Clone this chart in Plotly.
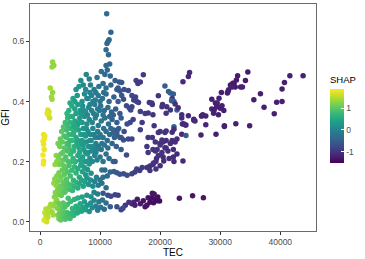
import plotly.graph_objects as go

# (TEC, GFI, SHAP) triples, grouped by region
yellow = [
    (800, 0.030, 1.6), (1000, 0.020, 1.65), (900, 0.010, 1.7), (1200, 0.025, 1.55), (1100, 0.000, 1.65),
    (700, 0.005, 1.7), (1300, 0.015, 1.55), (1000, 0.042, 1.5),
    (600, 0.290, 1.8), (800, 0.285, 1.8), (700, 0.275, 1.8), (500, 0.268, 1.85), (600, 0.258, 1.8),
    (700, 0.240, 1.8), (500, 0.222, 1.85), (600, 0.202, 1.8), (550, 0.192, 1.85),
    (1300, 0.372, 1.75), (1500, 0.365, 1.7), (1400, 0.355, 1.7), (1600, 0.345, 1.65), (1200, 0.360, 1.75),
    (1700, 0.445, 1.45), (2100, 0.430, 1.35), (1900, 0.415, 1.4), (2000, 0.408, 1.4),
    (2100, 0.532, 1.35), (2300, 0.520, 1.3), (2000, 0.515, 1.35),
]

low = [
    (1400, 0.030, 1.5), (1600, 0.048, 1.45), (1800, 0.058, 1.4), (2000, 0.033, 1.4), (2200, 0.022, 1.4),
    (2300, 0.052, 1.35), (2600, 0.064, 1.3), (2800, 0.071, 1.25),
    (3000, 0.022, 1.2), (3150, 0.010, 1.15), (3300, 0.031, 1.1), (3450, 0.006, 1.1), (3600, 0.018, 1.05),
    (3750, 0.036, 1.05), (3900, 0.012, 1.0), (4050, 0.027, 1.0), (4200, 0.008, 0.95), (4350, 0.019, 0.95),
    (4500, 0.031, 0.9), (4650, 0.014, 0.9), (4800, 0.024, 0.85), (5000, 0.011, 0.85), (3550, 0.046, 1.05),
    (4150, 0.049, 0.95), (4550, 0.057, 0.9), (3850, 0.062, 1.0), (3200, 0.060, 1.1), (2900, 0.045, 1.2),
    (5200, 0.028, 0.8), (5400, 0.044, 0.75), (5600, 0.021, 0.75), (5750, 0.037, 0.7), (6000, 0.051, 0.65),
    (6200, 0.029, 0.6), (6450, 0.043, 0.6), (6700, 0.060, 0.55), (6900, 0.035, 0.5), (7150, 0.048, 0.45),
    (7400, 0.066, 0.4), (7600, 0.040, 0.4), (7900, 0.055, 0.3), (8200, 0.034, 0.25), (8450, 0.062, 0.2),
    (8700, 0.046, 0.15), (9000, 0.071, 0.1), (9300, 0.052, 0.0), (9600, 0.038, -0.05), (9800, 0.066, -0.1),
    (10100, 0.048, -0.15), (10400, 0.072, -0.2), (10700, 0.041, -0.3), (11000, 0.062, -0.3),
    (5100, 0.067, 0.8), (5700, 0.074, 0.7), (6300, 0.079, 0.6), (4700, 0.078, 0.85), (7000, 0.082, 0.45),
    (7800, 0.088, 0.3), (8500, 0.083, 0.2),
    (10500, 0.095, -0.6), (11300, 0.088, -0.7), (11800, 0.085, -0.75), (12500, 0.090, -0.8), (13000, 0.088, -0.85),
    (12800, 0.050, -0.7), (13500, 0.040, -0.8), (14200, 0.055, -0.9), (15300, 0.060, -1.1), (15600, 0.065, -1.15),
    (15800, 0.055, -1.2), (16700, 0.060, -1.25), (17200, 0.070, -1.3), (17800, 0.055, -1.3), (18000, 0.080, -1.3),
    (18300, 0.065, -1.35), (18600, 0.080, -1.35), (18700, 0.095, -1.3), (19000, 0.092, -1.3), (19200, 0.075, -1.4),
    (18900, 0.063, -1.4), (19500, 0.070, -1.4), (19900, 0.069, -1.4), (19600, 0.082, -1.35), (16200, 0.075, -1.25),
    (14800, 0.065, -1.0), (17500, 0.050, -1.3),
    (23200, 0.078, -1.3), (25400, 0.086, -1.3), (27200, 0.080, -1.3),
    (11700, 0.050, -0.5), (13800, 0.045, -0.75),
]

mid_low = [
    (2300, 0.128, 1.35), (2450, 0.142, 1.3), (2650, 0.121, 1.3), (2800, 0.152, 1.25), (3000, 0.135, 1.2),
    (3150, 0.163, 1.2), (3350, 0.118, 1.15), (3500, 0.148, 1.15), (3700, 0.172, 1.1), (3850, 0.132, 1.1),
    (4050, 0.158, 1.05), (4250, 0.178, 1.0), (4400, 0.141, 1.0), (4600, 0.165, 0.95), (4850, 0.187, 0.9),
    (5050, 0.152, 0.85), (5300, 0.171, 0.8), (5550, 0.138, 0.75), (5750, 0.183, 0.75), (6000, 0.162, 0.7),
    (6300, 0.176, 0.6), (6550, 0.148, 0.55), (6800, 0.188, 0.5), (7050, 0.166, 0.45), (7350, 0.181, 0.4),
    (7600, 0.156, 0.35), (7900, 0.174, 0.3), (8200, 0.192, 0.25), (8500, 0.161, 0.2),
    (2400, 0.082, 1.3), (2550, 0.097, 1.3), (2750, 0.088, 1.25), (2950, 0.106, 1.2), (3150, 0.094, 1.2),
    (3350, 0.112, 1.15), (3550, 0.087, 1.1), (3750, 0.103, 1.1), (3950, 0.121, 1.05), (4150, 0.098, 1.0),
    (4350, 0.113, 1.0), (4600, 0.127, 0.95), (4900, 0.107, 0.9), (5150, 0.122, 0.85), (5400, 0.104, 0.8),
    (5700, 0.118, 0.75), (6000, 0.131, 0.7), (6300, 0.112, 0.6), (6600, 0.127, 0.55), (6900, 0.139, 0.5),
    (7200, 0.118, 0.45), (7500, 0.133, 0.4), (7800, 0.146, 0.3), (8100, 0.124, 0.25), (8400, 0.139, 0.2),
    (8800, 0.118, 0.1), (9100, 0.134, 0.05), (9400, 0.148, 0.0), (9700, 0.121, -0.1), (10000, 0.139, -0.15),
    (10300, 0.128, -0.2), (10500, 0.148, -0.25), (11000, 0.113, -0.3), (11200, 0.152, -0.35), (9000, 0.098, 0.05),
    (9600, 0.092, -0.05),
]

mid_band = [
    (10300, 0.172, -0.2), (10800, 0.172, -0.3), (11700, 0.165, -0.4), (12300, 0.167, -0.45), (12800, 0.163, -0.55),
    (13300, 0.158, -0.6), (13900, 0.160, -0.65), (14500, 0.155, -0.7), (15300, 0.160, -0.8), (15800, 0.165, -0.85),
    (16100, 0.175, -0.85), (16600, 0.170, -0.9), (17000, 0.180, -0.9), (17800, 0.180, -0.95), (18300, 0.185, -1.0),
    (18800, 0.190, -1.0), (19300, 0.200, -1.0), (18900, 0.195, -1.0), (19400, 0.210, -1.05), (20000, 0.186, -1.05),
    (20600, 0.202, -1.05), (22300, 0.200, -1.1), (23800, 0.202, -1.1), (19300, 0.175, -1.0), (18300, 0.170, -1.0),
    (12200, 0.200, -0.45), (12500, 0.200, -0.5), (14400, 0.222, -0.7),
]

upper = [
    (6800, 0.470, 0.2), (7700, 0.490, 0.05), (8200, 0.475, 0.0), (9500, 0.480, -0.15), (10200, 0.500, -0.25),
    (10800, 0.490, -0.3), (11200, 0.505, -0.35), (11700, 0.485, -0.4), (12500, 0.470, -0.5), (13200, 0.465, -0.55),
    (6500, 0.450, 0.25), (7200, 0.455, 0.15), (7600, 0.440, 0.1), (8400, 0.455, 0.0), (9000, 0.440, -0.1),
    (9800, 0.450, -0.2), (10500, 0.460, -0.25), (11000, 0.445, -0.3), (11800, 0.455, -0.4), (12800, 0.440, -0.5),
    (14000, 0.440, -0.65),
    (5500, 0.410, 0.45), (6200, 0.420, 0.3), (7000, 0.400, 0.25), (7400, 0.425, 0.15), (8000, 0.410, 0.1),
    (8600, 0.420, 0.0), (9200, 0.405, -0.05), (9700, 0.420, -0.15), (10400, 0.410, -0.2), (11000, 0.425, -0.3),
    (11500, 0.400, -0.35), (12300, 0.415, -0.45), (13000, 0.400, -0.5), (13600, 0.420, -0.6),
    (4800, 0.370, 0.65), (5300, 0.385, 0.55), (5800, 0.375, 0.45), (6300, 0.390, 0.35), (6700, 0.370, 0.3),
    (7100, 0.385, 0.2), (7600, 0.365, 0.15), (8100, 0.380, 0.1), (8600, 0.370, 0.0), (9100, 0.390, -0.05),
    (9600, 0.375, -0.1), (10100, 0.385, -0.2), (10700, 0.370, -0.25), (11300, 0.380, -0.3), (11900, 0.365, -0.4),
    (12600, 0.375, -0.5), (13300, 0.360, -0.55),
    (4200, 0.330, 0.85), (4600, 0.345, 0.75), (5000, 0.330, 0.7), (5400, 0.350, 0.6), (5800, 0.335, 0.5),
    (6200, 0.320, 0.45), (6600, 0.345, 0.35), (7000, 0.330, 0.3), (7400, 0.350, 0.2), (7800, 0.325, 0.2),
    (8200, 0.340, 0.1), (8700, 0.330, 0.05), (9200, 0.345, -0.05), (9700, 0.320, -0.1), (10200, 0.335, -0.15),
    (10800, 0.345, -0.25), (11400, 0.325, -0.3), (12000, 0.340, -0.4), (12800, 0.330, -0.5), (13500, 0.345, -0.55),
    (3600, 0.300, 1.05), (4000, 0.285, 0.95), (4400, 0.305, 0.85), (4800, 0.290, 0.8), (5200, 0.310, 0.7),
    (5600, 0.295, 0.6), (6000, 0.280, 0.55), (6400, 0.305, 0.45), (6800, 0.290, 0.4), (7200, 0.310, 0.3),
    (7600, 0.285, 0.25), (8000, 0.300, 0.15), (8400, 0.290, 0.1), (8800, 0.310, 0.05), (9200, 0.280, 0.0),
    (9600, 0.300, -0.05), (10000, 0.290, -0.1), (10500, 0.280, -0.2), (11000, 0.300, -0.25), (11600, 0.290, -0.35),
    (12300, 0.305, -0.4), (12800, 0.290, -0.45), (13500, 0.280, -0.55),
    (3000, 0.260, 1.2), (3300, 0.250, 1.15), (3700, 0.265, 1.05), (4100, 0.245, 1.0), (4500, 0.260, 0.9),
    (4900, 0.240, 0.85), (5300, 0.270, 0.75), (5700, 0.250, 0.65), (6100, 0.265, 0.55), (6500, 0.245, 0.5),
    (6900, 0.260, 0.4), (7300, 0.240, 0.35), (7700, 0.265, 0.25), (8100, 0.250, 0.2), (8500, 0.270, 0.1),
    (8900, 0.245, 0.05), (9300, 0.260, 0.0), (9700, 0.250, -0.1), (10200, 0.240, -0.15), (10700, 0.255, -0.2),
    (11300, 0.245, -0.3), (12000, 0.260, -0.4), (12700, 0.250, -0.45), (13500, 0.240, -0.55),
    (2700, 0.220, 1.3), (3100, 0.210, 1.2), (3500, 0.225, 1.1), (3900, 0.205, 1.05), (4300, 0.215, 0.95),
    (4700, 0.200, 0.9), (5100, 0.225, 0.8), (5500, 0.210, 0.75), (5900, 0.200, 0.65), (6300, 0.220, 0.55),
    (6700, 0.205, 0.5), (7100, 0.215, 0.4), (7500, 0.200, 0.35), (7900, 0.225, 0.25), (8300, 0.210, 0.2),
    (8700, 0.200, 0.1), (9100, 0.220, 0.05), (9500, 0.205, 0.0), (10000, 0.215, -0.1), (10500, 0.200, -0.15),
    (11000, 0.225, -0.25), (11500, 0.210, -0.3),
    (2500, 0.190, 1.35), (2800, 0.200, 1.3), (3200, 0.190, 1.2), (3600, 0.195, 1.15), (4000, 0.185, 1.05),
]

upper_fill = [
    (5000, 0.27, 0.75), (5400, 0.29, 0.65), (5900, 0.31, 0.55), (6300, 0.27, 0.5), (6600, 0.23, 0.5),
    (7000, 0.27, 0.35), (7300, 0.29, 0.3), (7700, 0.31, 0.2), (8000, 0.23, 0.25), (8300, 0.27, 0.15),
    (8700, 0.25, 0.1), (9000, 0.29, 0.0), (9400, 0.24, 0.0), (9800, 0.28, -0.1), (6800, 0.36, 0.25),
    (7300, 0.37, 0.2), (7900, 0.355, 0.1), (8300, 0.39, 0.05), (8900, 0.36, 0.0), (9400, 0.355, -0.05),
    (9900, 0.37, -0.15), (7800, 0.41, 0.05), (8300, 0.43, 0.0), (8800, 0.40, -0.05), (6000, 0.36, 0.4),
    (6500, 0.33, 0.4), (5600, 0.32, 0.55), (5200, 0.35, 0.6), (4600, 0.32, 0.8), (4400, 0.28, 0.9),
    (4800, 0.255, 0.85), (5600, 0.235, 0.7), (6400, 0.255, 0.5), (7200, 0.255, 0.35), (7600, 0.23, 0.3),
    (8600, 0.235, 0.1), (9300, 0.23, 0.0), (10300, 0.26, -0.15), (10600, 0.31, -0.2), (11200, 0.27, -0.3),
    (11800, 0.31, -0.35), (12400, 0.28, -0.45), (13100, 0.31, -0.55), (12200, 0.355, -0.45), (11600, 0.35, -0.35),
    (10500, 0.355, -0.2), (10000, 0.40, -0.2), (10600, 0.43, -0.25), (9300, 0.43, -0.1), (6000, 0.44, 0.25),
    (5800, 0.40, 0.4), (5000, 0.395, 0.55), (4500, 0.36, 0.7), (3900, 0.315, 0.95), (3400, 0.275, 1.1),
    (3800, 0.23, 1.05), (4600, 0.235, 0.9), (5400, 0.20, 0.8), (6900, 0.195, 0.45), (7800, 0.20, 0.3),
]

spike = [
    (11100, 0.692, -0.3), (11800, 0.631, -0.4), (11330, 0.600, -0.35), (11150, 0.593, -0.35), (11500, 0.606, -0.35),
    (11000, 0.572, -0.3), (11400, 0.556, -0.35), (11000, 0.520, -0.3), (11600, 0.525, -0.35),
]

right = [
    (17200, 0.489, -0.9), (16000, 0.470, -0.85), (16300, 0.460, -0.9), (16700, 0.465, -0.9), (13600, 0.463, -0.6),
    (13000, 0.445, -0.55), (13300, 0.435, -0.6), (14700, 0.437, -0.7), (15300, 0.420, -0.75), (15600, 0.405, -0.8),
    (15900, 0.415, -0.8), (16100, 0.400, -0.85), (13900, 0.408, -0.65), (16400, 0.397, -0.85), (14400, 0.386, -0.7),
    (14900, 0.378, -0.75), (15100, 0.372, -0.75), (15300, 0.383, -0.8), (18200, 0.397, -0.95), (18700, 0.390, -0.95),
    (19700, 0.419, -1.0), (20800, 0.452, -0.5), (20400, 0.390, -1.0), (21100, 0.383, -1.0), (16700, 0.367, -0.85),
    (17500, 0.360, -0.9), (18000, 0.362, -0.95), (18800, 0.356, -1.0),
    (24900, 0.497, -1.1), (24700, 0.483, -1.1), (23800, 0.466, -1.1), (21400, 0.433, -0.5), (21700, 0.428, -0.45),
    (22200, 0.425, -0.5), (22000, 0.410, -1.0), (22300, 0.400, -0.5), (21900, 0.403, -0.45), (22500, 0.392, -1.0),
    (18600, 0.395, -0.95), (20300, 0.383, -1.0), (21700, 0.372, -1.0), (22800, 0.372, -0.4), (21000, 0.361, -1.0),
    (23000, 0.379, -1.05), (23600, 0.356, -1.05), (23600, 0.345, -1.05), (24700, 0.353, -1.1), (25600, 0.341, -1.1),
    (25800, 0.335, -1.1), (26900, 0.352, -1.15), (27600, 0.352, -1.15), (23900, 0.326, -1.1), (24200, 0.322, -1.1),
    (25600, 0.338, -1.1), (27100, 0.356, -1.15),
    (19000, 0.319, -1.0), (19700, 0.297, -1.0), (20800, 0.297, -1.0), (22300, 0.316, -0.45), (22300, 0.308, -1.05),
    (23700, 0.325, -1.1), (24300, 0.322, -1.1), (23600, 0.291, -1.1), (24300, 0.287, -0.5), (26800, 0.289, -1.15),
    (27600, 0.323, -1.15), (29300, 0.291, -1.2), (30700, 0.317, -1.2), (32600, 0.326, -1.2), (34900, 0.319, -1.2),
    (16700, 0.306, -0.85), (20000, 0.300, -1.0), (21000, 0.302, -1.0), (22000, 0.298, -1.05),
    (21700, 0.260, -1.05), (22000, 0.270, -1.05), (22500, 0.265, -1.05), (22800, 0.275, -1.1), (20000, 0.260, -1.0),
    (20500, 0.265, -1.0), (21000, 0.270, -1.05), (20300, 0.272, -1.0),
    (19200, 0.265, -1.0), (20000, 0.255, -1.0), (19500, 0.240, -1.0), (20300, 0.230, -1.0), (19700, 0.220, -1.0),
    (20500, 0.215, -1.05), (21000, 0.245, -1.05), (21500, 0.210, -1.05), (20800, 0.246, -1.05), (22200, 0.240, -1.05),
    (22200, 0.215, -1.05), (21300, 0.235, -1.05), (22800, 0.225, -1.1), (18800, 0.240, -0.95), (19200, 0.235, -1.0),
    (17800, 0.250, -0.95), (18000, 0.230, -0.95),
    (14700, 0.275, -0.75), (15300, 0.275, -0.8), (18000, 0.280, -0.95), (18700, 0.280, -0.95),
    (14000, 0.300, -0.7), (15000, 0.330, -0.75), (15500, 0.340, -0.8), (14500, 0.325, -0.7), (17000, 0.330, -0.9),
    (12800, 0.300, -0.5), (13300, 0.280, -0.55), (12200, 0.295, -0.45), (13900, 0.272, -0.65),
]

diag = [
    (28600, 0.408, -1.2), (29200, 0.395, -1.2), (29400, 0.383, -1.2), (30000, 0.378, -1.2), (28600, 0.375, -1.2),
    (29700, 0.356, -1.2), (29800, 0.411, -1.2), (30200, 0.430, -1.2), (31200, 0.428, -1.2), (31400, 0.439, -1.2),
    (31700, 0.455, -1.25), (32100, 0.461, -1.25), (32500, 0.448, -1.25), (32700, 0.472, -1.25), (32900, 0.486, -1.25),
    (33400, 0.448, -1.2), (34200, 0.470, -1.25), (34600, 0.498, -1.25), (28900, 0.361, -1.2), (30700, 0.319, -1.2),
    (30100, 0.381, -1.2), (29000, 0.372, -1.2), (30300, 0.386, -1.2), (30600, 0.370, -1.2), (32300, 0.461, -1.25),
    (32000, 0.448, -1.2), (31300, 0.433, -1.2), (29500, 0.395, -1.2), (33700, 0.448, -1.2), (26900, 0.352, -1.15),
]

far = [
    (36700, 0.426, -1.2), (35600, 0.406, -1.2), (37300, 0.381, -1.2), (39000, 0.359, -1.2), (39400, 0.398, -1.2),
    (40300, 0.400, -1.2), (40300, 0.442, -1.2), (40700, 0.463, -1.2), (41600, 0.486, -1.2), (43800, 0.486, -1.2),
]

x_ticks = [0, 10000, 20000, 30000, 40000]
x_tick_labels = ["0", "10000", "20000", "30000", "40000"]
y_ticks = [0.0, 0.2, 0.4, 0.6]
y_tick_labels = ["0.0", "0.2", "0.4", "0.6"]
cbar_ticks = [-1, 0, 1]
cbar_labels = ["-1", "0", "1"]

points = yellow + low + mid_low + mid_band + upper + upper_fill + spike + right + diag + far
tec = [p[0] for p in points]
gfi = [p[1] for p in points]
shap = [p[2] for p in points]

FONT = "Liberation Sans, Arial, sans-serif"

fig = go.Figure(go.Scatter(
    x=tec, y=gfi, mode="markers",
    marker=dict(
        size=5.5, color=shap, colorscale="Viridis", cmin=-1.5, cmax=1.9,
        line=dict(width=0),
        colorbar=dict(
            title=dict(text="SHAP", side="top", font=dict(size=9.5, color="#000000", family=FONT)),
            x=1.049, xanchor="left", y=0.50, yanchor="middle",
            len=90, lenmode="pixels", thickness=14, thicknessmode="pixels",
            outlinewidth=0, tickvals=cbar_ticks, ticktext=cbar_labels,
            ticks="inside", ticklen=3, tickcolor="white",
            tickfont=dict(size=8.5, color="#4d4d4d", family=FONT),
            xpad=0, ypad=0,
        ),
    ),
    showlegend=False,
))

fig.update_layout(
    width=365, height=259,
    margin=dict(l=30, r=49, t=4, b=28, autoexpand=False),
    paper_bgcolor="white", plot_bgcolor="white",
    font=dict(family=FONT),
    xaxis=dict(
        range=[-1667, 45950], tickvals=x_ticks, ticktext=x_tick_labels, ticks="outside", ticklen=3,
        tickcolor="#333333", tickfont=dict(size=8.5, color="#4d4d4d"), showgrid=False, zeroline=False,
        showline=True, linecolor="#6a6a6a", linewidth=1, mirror=True, automargin=False,
        title=dict(text="TEC", font=dict(size=10, color="#000000"), standoff=2),
    ),
    yaxis=dict(
        range=[-0.031, 0.7247], tickvals=y_ticks, ticktext=y_tick_labels, ticks="outside", ticklen=3,
        tickcolor="#333333", tickfont=dict(size=8.5, color="#4d4d4d"), showgrid=False, zeroline=False,
        showline=True, linecolor="#6a6a6a", linewidth=1, mirror=True, automargin=False,
        title=dict(text="GFI", font=dict(size=10, color="#000000"), standoff=2),
    ),
)

fig.write_html(
    "out.html",
    config={"displayModeBar": False},
    post_script="document.body.style.margin='0px';document.body.style.padding='0px';",
)
